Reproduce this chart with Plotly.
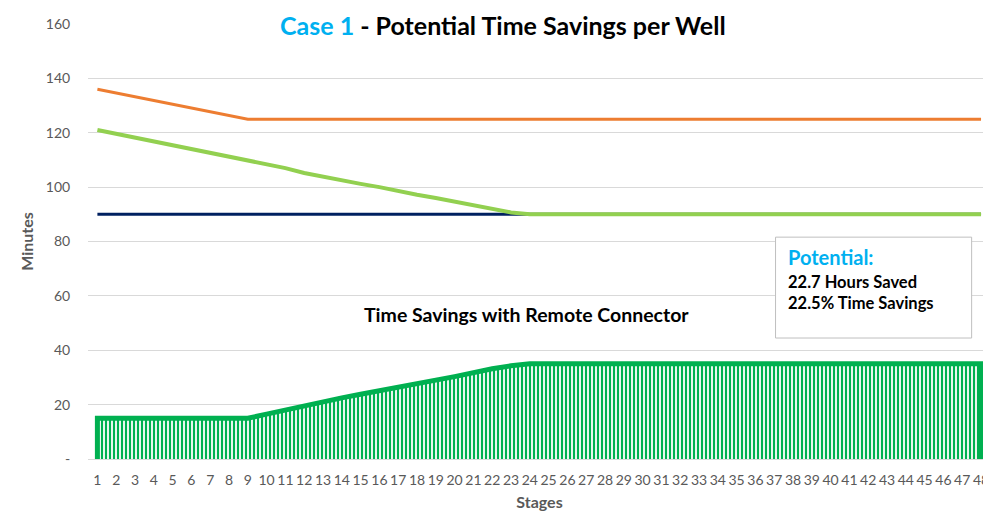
import plotly.graph_objects as go

# stages 1..48
stages = list(range(1, 49))

# current process (orange), with remote connector (light green), target (navy)
current = [136, 134.6, 133.2, 131.9, 130.5, 129.1, 127.8, 126.4, 125] + [125] * 39
savings = ([15] * 9 + [16.5, 18, 19.8, 21.2, 22.5, 23.8, 25, 26.5, 27.8, 29, 30.3,
                       31.8, 33.2, 34.3] + [35] * 25)
remote = [c - s for c, s in zip(current, savings)]
target = [90] * 48

y_ticks = [0, 20, 40, 60, 80, 100, 120, 140, 160]
y_ticktext = ["-", "20", "40", "60", "80", "100", "120", "140", "160"]

fig = go.Figure()

# savings area (closed polygon so the left/right edges get the outline too)
area_x = [stages[0]] + stages + [stages[-1]]
area_y = [0] + savings + [0]
fig.add_trace(go.Scatter(
    x=area_x, y=area_y, mode="lines", fill="toself",
    line=dict(color="#00B050", width=5),
    fillcolor="white",
    fillpattern=dict(shape="|", size=4, solidity=0.55, fgcolor="#00B050",
                     fgopacity=1, bgcolor="white"),
    hoverinfo="skip", showlegend=False))

fig.add_trace(go.Scatter(x=stages, y=target, mode="lines",
                         line=dict(color="#002060", width=3), showlegend=False))
fig.add_trace(go.Scatter(x=stages, y=current, mode="lines",
                         line=dict(color="#ED7D31", width=3), showlegend=False))
fig.add_trace(go.Scatter(x=stages, y=remote, mode="lines",
                         line=dict(color="#92D050", width=4), showlegend=False))

font_main = "Lato, 'Open Sans', sans-serif"

fig.update_layout(
    width=983, height=505,
    margin=dict(l=80, r=0, t=16, b=54),
    paper_bgcolor="white", plot_bgcolor="white",
    font=dict(family=font_main, color="#595959", size=14),
    xaxis=dict(range=[0.5, 48.53], tickmode="array", tickvals=stages,
               ticktext=[str(s) for s in stages], showgrid=False, zeroline=False,
               ticks="outside", ticklen=8, tickcolor="rgba(0,0,0,0)",
               ticklabeloverflow="allow",
               tickfont=dict(size=14, color="#595959"),
               title=dict(text="<b>Stages</b>", standoff=10,
                          font=dict(size=16, color="#595959"))),
    yaxis=dict(range=[0, 160], tickmode="array", tickvals=y_ticks, ticktext=y_ticktext,
               showgrid=True, gridcolor="#D9D9D9", gridwidth=1,
               zeroline=True, zerolinecolor="#D9D9D9", zerolinewidth=1,
               ticks="outside", ticklen=14, tickcolor="rgba(0,0,0,0)",
               tickfont=dict(size=14, color="#595959"),
               title=dict(text="<b>Minutes</b>", standoff=8,
                          font=dict(size=16, color="#595959"))),
)

fig.add_annotation(
    x=22.55, y=160, xref="x", yref="y", yanchor="middle", yshift=-1,
    text="<b><span style='color:#00B0F0'>Case 1</span> - Potential Time Savings per Well</b>",
    showarrow=False, font=dict(size=25, color="black", family=font_main))

fig.add_annotation(
    x=23.8, y=53, xref="x", yref="y",
    text="<b>Time Savings with Remote Connector</b>",
    showarrow=False, font=dict(size=19.5, color="black", family=font_main))

# potential box
fig.add_shape(type="rect", xref="x", yref="y",
              x0=37.07, x1=47.5, y0=44.5, y1=81.6,
              line=dict(color="#BFBFBF", width=1), fillcolor="white", layer="above")
fig.add_annotation(
    x=37.65, y=74.3, xref="x", yref="y",
    xanchor="left", yanchor="middle", showarrow=False,
    text="<b>Potential:</b>", font=dict(size=20, color="#00B0F0", family=font_main))
fig.add_annotation(
    x=37.65, y=61.2, xref="x", yref="y",
    xanchor="left", yanchor="middle", showarrow=False, align="left",
    text="<b>22.7 Hours Saved</b><br><b>22.5% Time Savings</b>",
    font=dict(size=16.5, color="black", family=font_main))

fig.write_html("out.html")
